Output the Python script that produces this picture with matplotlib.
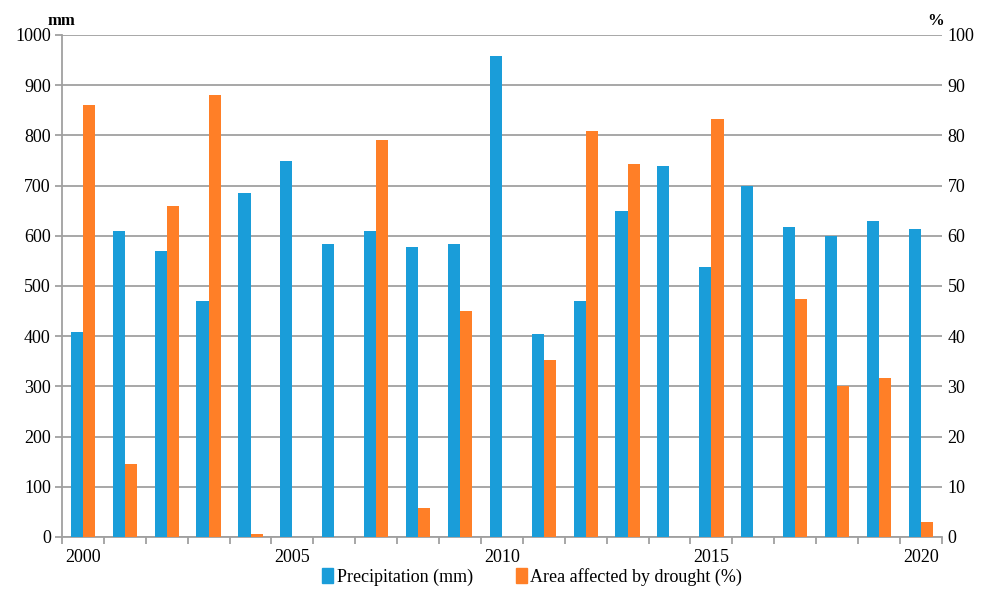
import numpy as np
import matplotlib.pyplot as plt
from matplotlib.patches import Patch

plt.rcParams['font.family'] = ['Liberation Serif', 'DejaVu Serif']

# 年份、降水量(mm)与干旱受灾面积比例(%)
years = list(range(2000, 2021))
precip = [408, 609, 570, 470, 685, 748, 584, 610, 578, 584, 958,
          405, 470, 650, 740, 538, 700, 617, 600, 630, 614]
drought = [86, 14.5, 66, 88, 0.5, 0, 0, 79, 5.7, 45, 0,
           35.3, 80.8, 74.3, 0, 83.3, 0, 47.5, 30, 31.7, 3]
year_labels = ['2000', '2005', '2010', '2015', '2020']

blue = '#1a9dd9'
orange = '#ff7f27'
grid_c = '#a0a0a0'

fig = plt.figure(figsize=(9.82, 5.89), dpi=100)
ax = fig.add_axes([0.0631, 0.0883, 0.896, 0.8523])
ax2 = ax.twinx()

x = np.arange(len(years))
w = 0.29
ax.bar(x - w / 2, precip, width=w, color=blue, zorder=3)
ax2.bar(x + w / 2, drought, width=w, color=orange, zorder=3)

ax.set_ylim(0, 1000)
ax2.set_ylim(0, 100)
ax.set_xlim(-0.5, len(years) - 0.5)
ax.set_yticks(np.arange(0, 1001, 100))
ax2.set_yticks(np.arange(0, 101, 10))
ax.yaxis.grid(True, color=grid_c, linewidth=1.3, zorder=0)
ax.set_axisbelow(True)

# 分类边界处的刻度线, 年份标签每5年一个
ax.set_xticks(np.arange(-0.5, len(years), 1), minor=True)
ax.set_xticks([0, 5, 10, 15, 20])
ax.set_xticklabels(year_labels)
ax.tick_params(axis='x', which='major', length=0, pad=9, labelsize=13)
ax.tick_params(axis='x', which='minor', length=5, color=grid_c, width=1.3)
ax.tick_params(axis='y', length=5, color=grid_c, width=1.3, labelsize=13, pad=3)
ax2.tick_params(axis='y', length=0, labelsize=13, pad=4)

for a in (ax, ax2):
    for s in a.spines.values():
        s.set_visible(False)
for side in ('left', 'bottom'):
    ax.spines[side].set_visible(True)
    ax.spines[side].set_color(grid_c)
    ax.spines[side].set_linewidth(1.3)

fig.text(0.048, 0.965, 'mm', fontsize=12, fontweight='bold', va='center')
fig.text(0.944, 0.965, '%', fontsize=12, fontweight='bold', va='center')

handles = [Patch(color=blue, label='Precipitation (mm)'),
           Patch(color=orange, label='Area affected by drought (%)')]
fig.legend(handles=handles, loc='center', bbox_to_anchor=(0.542, 0.02),
           ncol=2, frameon=False, fontsize=13, handlelength=0.6,
           handleheight=0.9, handletextpad=0.2, columnspacing=2.4)

fig.savefig('out.png', dpi=100)
